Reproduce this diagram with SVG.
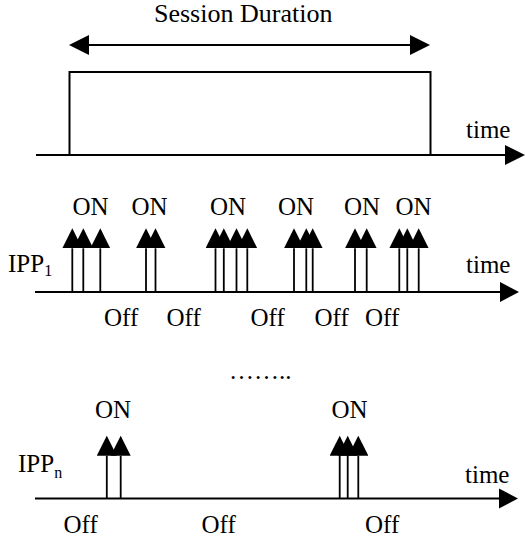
<svg xmlns="http://www.w3.org/2000/svg" width="525" height="542" viewBox="0 0 525 542">
<style>
text{font-family:'Liberation Serif','Tinos','Nimbus Roman','Nimbus Roman No9 L','FreeSerif','Noto Serif','DejaVu Serif','Times New Roman',Times,serif;font-size:25px;fill:#000}
.ax{stroke:#000;stroke-width:2;fill:none}
.sp{stroke:#000;stroke-width:1.8;fill:none;marker-end:url(#head)}
.sub{font-size:16px}
</style>
<defs>
<marker id="head" viewBox="0 0 20 20" refX="0" refY="10" markerWidth="20" markerHeight="20" markerUnits="userSpaceOnUse" orient="auto">
<path d="M0,0 L20,10 L0,20 z" fill="#000"/>
</marker>
</defs>
<g id="session">
<text x="154" y="22" style="font-size:26px">Session Duration</text>
<line class="ax" x1="89" y1="45" x2="410" y2="45"/>
<path d="M69,45 L89,35 L89,55 z M430,45 L410,35 L410,55 z" fill="#000"/>
<path class="ax" d="M69.5,155 L69.5,72 L430.5,72 L430.5,155"/>
<text x="466" y="138">time</text>
</g>
<g id="connectors">
<line class="ax" x1="36" y1="155" x2="506" y2="155"/>
<path d="M525,155 L505,145 L505,165 z" fill="#000"/>
<line class="ax" x1="35" y1="292" x2="500" y2="292"/>
<path d="M519,292 L500,282 L500,302 z" fill="#000"/>
<line class="ax" x1="35" y1="498.5" x2="499" y2="498.5"/>
<path d="M518,498.5 L499,488.5 L499,508.5 z" fill="#000"/>
</g>
<g id="ipp1">
<text x="8" y="272">IPP<tspan class="sub" dy="4">1</tspan></text>
<text x="466" y="273">time</text>
<g>
<line class="sp" x1="72.3" y1="292" x2="72.3" y2="248.3"/>
<line class="sp" x1="83.3" y1="292" x2="83.3" y2="248.3"/>
<line class="sp" x1="100.3" y1="292" x2="100.3" y2="248.3"/>
<line class="sp" x1="146" y1="292" x2="146" y2="248.3"/>
<line class="sp" x1="155.5" y1="292" x2="155.5" y2="248.3"/>
<line class="sp" x1="215.5" y1="292" x2="215.5" y2="248.3"/>
<line class="sp" x1="223.8" y1="292" x2="223.8" y2="248.3"/>
<line class="sp" x1="236.5" y1="292" x2="236.5" y2="248.3"/>
<line class="sp" x1="247.3" y1="292" x2="247.3" y2="248.3"/>
<line class="sp" x1="294" y1="292" x2="294" y2="248.3"/>
<line class="sp" x1="306.3" y1="292" x2="306.3" y2="248.3"/>
<line class="sp" x1="312.7" y1="292" x2="312.7" y2="248.3"/>
<line class="sp" x1="355" y1="292" x2="355" y2="248.3"/>
<line class="sp" x1="366.7" y1="292" x2="366.7" y2="248.3"/>
<line class="sp" x1="399.3" y1="292" x2="399.3" y2="248.3"/>
<line class="sp" x1="407.3" y1="292" x2="407.3" y2="248.3"/>
<line class="sp" x1="418.7" y1="292" x2="418.7" y2="248.3"/>
</g>
<text x="72.5" y="215">ON</text>
<text x="131.5" y="215">ON</text>
<text x="210" y="215">ON</text>
<text x="278" y="215">ON</text>
<text x="344" y="215">ON</text>
<text x="395.5" y="215">ON</text>
<text x="104" y="326">Off</text>
<text x="166.5" y="326">Off</text>
<text x="250.5" y="326">Off</text>
<text x="314.5" y="326">Off</text>
<text x="365" y="326">Off</text>
</g>
<g id="dots">
<text x="229" y="379">……..</text>
</g>
<g id="ippn">
<text x="18" y="472">IPP<tspan class="sub" dy="6">n</tspan></text>
<text x="465" y="483">time</text>
<line class="sp" x1="106.8" y1="498.5" x2="106.8" y2="455.7"/>
<line class="sp" x1="120.7" y1="498.5" x2="120.7" y2="455.7"/>
<line class="sp" x1="339.7" y1="498.5" x2="339.7" y2="455.7"/>
<line class="sp" x1="347.7" y1="498.5" x2="347.7" y2="455.7"/>
<line class="sp" x1="358.3" y1="498.5" x2="358.3" y2="455.7"/>
<text x="95" y="418">ON</text>
<text x="331.5" y="418">ON</text>
<text x="63.5" y="533">Off</text>
<text x="201.5" y="533">Off</text>
<text x="365" y="533">Off</text>
</g>
</svg>
